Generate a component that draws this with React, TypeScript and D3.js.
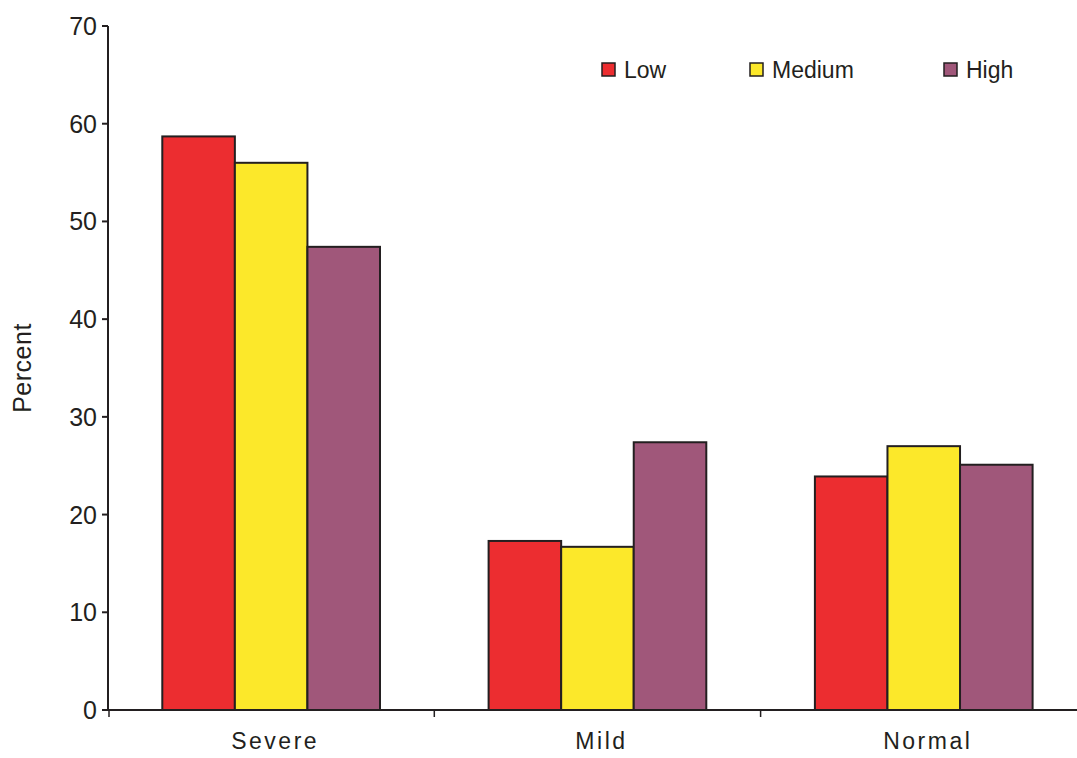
import React from "react";
import * as d3 from "d3";

const categories = ["Severe", "Mild", "Normal"];
const seriesNames = ["Low", "Medium", "High"];
const lowValues = [58.7, 17.3, 23.9];
const mediumValues = [56.0, 16.7, 27.0];
const highValues = [47.4, 27.4, 25.1];
const yTicks = [0, 10, 20, 30, 40, 50, 60, 70];
const colors = ["#EC2D30", "#FCE82A", "#A0577A"];

const W = 1077;
const H = 758;
const left = 108;
const bandW = 326.3;
const font = "Arial, 'Liberation Sans', Helvetica, sans-serif";

export default function App() {
  const series = [lowValues, mediumValues, highValues];
  const x = d3
    .scaleBand<string>()
    .domain(categories)
    .range([left, left + bandW * categories.length])
    .paddingInner(0)
    .paddingOuter(0);
  const inner = d3
    .scaleBand<string>()
    .domain(seriesNames)
    .range([54.3, bandW - 54.3]);
  const y = d3.scaleLinear().domain([0, 70]).range([710, 26]);
  const stroke = "#231F20";
  const legendX = [602, 750, 944];

  return (
    <svg
      width={W}
      height={H}
      style={{ position: "absolute", left: 0, top: 0, background: "#fff" }}
      fontFamily={font}
    >
      {categories.map((c, ci) =>
        seriesNames.map((s, si) => {
          const v = series[si][ci];
          return (
            <rect
              key={c + s}
              x={(x(c) as number) + (inner(s) as number)}
              y={y(v)}
              width={inner.bandwidth()}
              height={y(0) - y(v)}
              fill={colors[si]}
              stroke={stroke}
              strokeWidth={2}
            />
          );
        })
      )}
      {/* y axis */}
      <line x1={left} x2={left} y1={y(70)} y2={y(0)} stroke={stroke} strokeWidth={2} />
      {yTicks.map((t) => (
        <g key={t}>
          <line x1={left - 6} x2={left} y1={y(t)} y2={y(t)} stroke={stroke} strokeWidth={2} />
          <text
            x={left - 11}
            y={y(t)}
            dy="0.36em"
            textAnchor="end"
            fontSize={25}
            fill="#231F20"
          >
            {t}
          </text>
        </g>
      ))}
      {/* x axis */}
      <line x1={left - 1} x2={W} y1={y(0)} y2={y(0)} stroke={stroke} strokeWidth={2} />
      {categories.map((c, i) => (
        <line
          key={"xt" + c}
          x1={(x(c) as number) + (i === 0 ? 1 : 0)}
          x2={(x(c) as number) + (i === 0 ? 1 : 0)}
          y1={y(0)}
          y2={y(0) + 7}
          stroke={stroke}
          strokeWidth={1.5}
        />
      ))}
      {categories.map((c) => (
        <text
          key={"xl" + c}
          x={(x(c) as number) + x.bandwidth() / 2 + 4}
          y={749}
          textAnchor="middle"
          fontSize={23}
          letterSpacing={2.5}
          fill="#231F20"
        >
          {c}
        </text>
      ))}
      <text
        transform={`translate(31,368) rotate(-90)`}
        textAnchor="middle"
        fontSize={25}
        letterSpacing={0.5}
        fill="#231F20"
      >
        Percent
      </text>
      {/* legend */}
      {seriesNames.map((s, i) => (
        <g key={"lg" + s}>
          <rect
            x={legendX[i]}
            y={63}
            width={13}
            height={13}
            fill={colors[i]}
            stroke={stroke}
            strokeWidth={1.5}
          />
          <text x={legendX[i] + 22} y={78} fontSize={23} fill="#231F20">
            {s}
          </text>
        </g>
      ))}
    </svg>
  );
}
